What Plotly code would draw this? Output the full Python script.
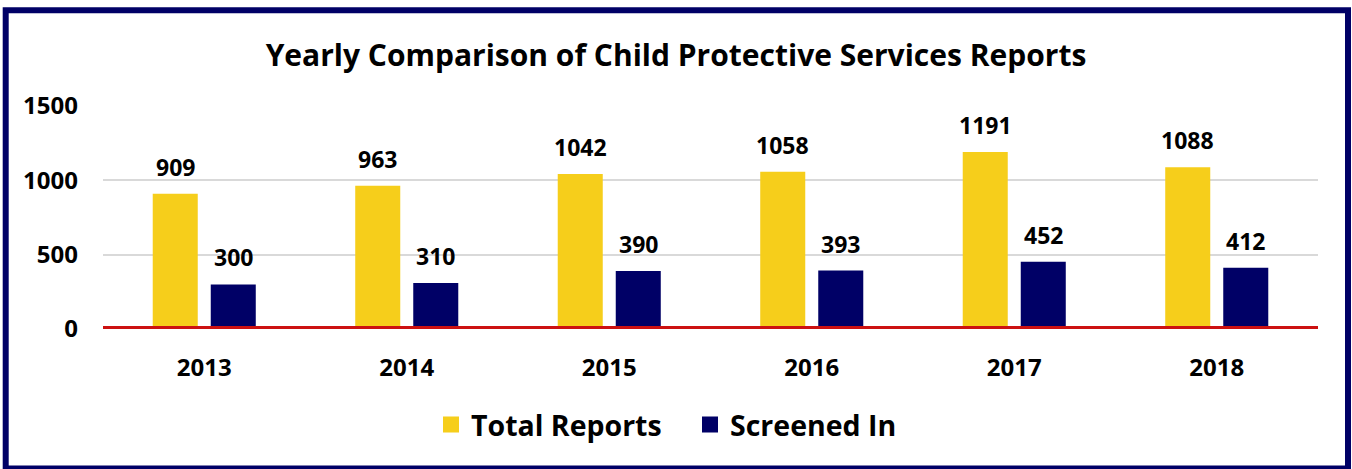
import plotly.graph_objects as go

years = ["2013", "2014", "2015", "2016", "2017", "2018"]
total_reports = [909, 963, 1042, 1058, 1191, 1088]
screened_in = [300, 310, 390, 393, 452, 412]
y_ticks = [0, 500, 1000, 1500]

YELLOW = "#F6CE1B"
NAVY = "#000066"
RED = "#CC1111"
FONT = "Open Sans"

W, H = 1352, 469
L, R, T, B = 103, 34, 106, 140
pw, ph = W - L - R, H - T - B

def px_x(x):
    return (x - L) / pw

def px_y(y):
    return (H - B - y) / ph

fig = go.Figure()
fig.add_trace(go.Bar(x=years, y=total_reports, name="Total Reports",
                     marker=dict(color=YELLOW, line=dict(width=0)), showlegend=False))
fig.add_trace(go.Bar(x=years, y=screened_in, name="Screened In",
                     marker=dict(color=NAVY, line=dict(width=0)), showlegend=False))
# legend entries
fig.add_trace(go.Scatter(x=[years[0]], y=[None], mode="markers", name="Total Reports",
                         marker=dict(symbol="square", size=18, color=YELLOW)))
fig.add_trace(go.Scatter(x=[years[0]], y=[None], mode="markers", name="Screened In",
                         marker=dict(symbol="square", size=18, color=NAVY)))

annotations = []
lab_font = dict(family=FONT, size=23, color="black", weight="bold")
for i, (tv, sv) in enumerate(zip(total_reports, screened_in)):
    annotations.append(dict(x=i, y=tv, xref="x", yref="y", text=str(tv), showarrow=False,
                            xshift=-29, yshift=27, yanchor="middle", font=lab_font))
    annotations.append(dict(x=i, y=sv, xref="x", yref="y", text=str(sv), showarrow=False,
                            xshift=29, yshift=27, yanchor="middle", font=lab_font))

fig.update_layout(
    width=W, height=H,
    margin=dict(l=L, r=R, t=T, b=B, pad=0, autoexpand=False),
    paper_bgcolor="white", plot_bgcolor="white",
    barmode="group", bargap=0.427, bargroupgap=0.224,
    title=dict(text="<b>Yearly Comparison of Child Protective Services Reports</b>",
               x=0.5, xref="container", xanchor="center",
               y=1 - 55 / H, yref="container", yanchor="middle",
               font=dict(family=FONT, size=30, color="black")),
    xaxis=dict(type="category", categoryorder="array", categoryarray=years,
               range=[-0.5, len(years) - 0.5],
               showgrid=False, zeroline=False, showline=False,
               ticks="", ticklabelstandoff=22,
               tickfont=dict(family=FONT, size=24, color="black", weight="bold")),
    yaxis=dict(range=[0, 1500], tickvals=y_ticks, showgrid=True, gridcolor="#D9D9D9",
               gridwidth=2, zeroline=False, showline=False, ticks="",
               ticklabelstandoff=24,
               tickfont=dict(family=FONT, size=24, color="black", weight="bold")),
    legend=dict(orientation="h", x=px_x(431), xanchor="left", y=px_y(425), yanchor="middle",
                font=dict(family=FONT, size=28.5, color="black", weight="bold"),
                itemsizing="trace", entrywidth=214, bgcolor="rgba(0,0,0,0)"),
    annotations=annotations,
    shapes=[
        dict(type="line", xref="paper", yref="y", x0=0, x1=1, y0=0, y1=0,
             line=dict(color=RED, width=6), layer="above"),
        dict(type="rect", xref="paper", yref="paper",
             x0=px_x(5.7), x1=px_x(1348), y0=px_y(468.5), y1=px_y(10.3),
             line=dict(color=NAVY, width=6), fillcolor="rgba(0,0,0,0)"),
    ],
)

fig.write_html("out.html", config={"displayModeBar": False},
               post_script="document.body.style.margin='0';document.body.style.padding='0';")
